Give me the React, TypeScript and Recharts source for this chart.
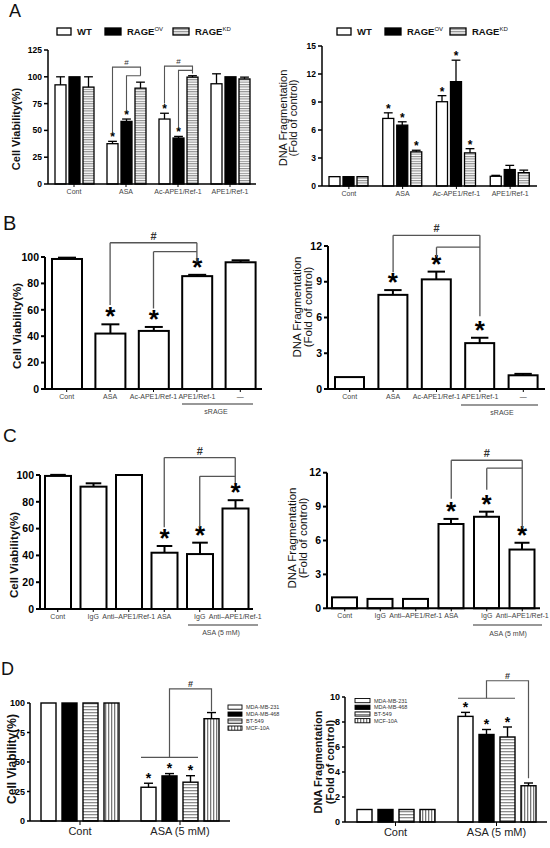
import React from 'react';
import { BarChart, Bar, XAxis, YAxis, ReferenceLine } from 'recharts';

const FONT = '"Liberation Sans", Arial, Helvetica, sans-serif';
const STAR_FONT = '"Liberation Sans", Arial, sans-serif';

// ---------------- Panel A ----------------
const catsA = ['Cont', 'ASA', 'Ac-APE1/Ref-1', 'APE1/Ref-1'];
const seriesA = ['WT', 'RAGE', 'RAGE'];
const seriesASup = ['', 'OV', 'KD'];

const viabA_WT = [92.5, 37.6, 60.6, 93.5];
const viabA_WTErr = [7.5, 2.2, 5.4, 9.3];
const viabA_OV = [100, 58.4, 42.9, 100];
const viabA_OVErr = [0, 2.2, 1.5, 0];
const viabA_KD = [90.4, 89.4, 99.7, 98];
const viabA_KDErr = [9.6, 5.6, 1.3, 1.7];
const viabA_Sig = [[0, 1, 1, 0], [0, 1, 1, 0], [0, 0, 0, 0]];
const viabA_Ticks = [0, 25, 50, 75, 100, 125];
const viabA_Brackets = [
  { cat: 1, from: 0, to: 2, top: 109, fromEnd: 48, toEnd: 101, hash: true },
  { cat: 1, from: 1, to: 2, top: 101, fromEnd: 68, toEnd: 101 },
  { cat: 2, from: 0, to: 2, top: 110, fromEnd: 75, toEnd: 103, hash: true },
  { cat: 2, from: 1, to: 2, top: 106, fromEnd: 53, toEnd: 106 },
];

const fragA_WT = [1.0, 7.24, 9.03, 1.04];
const fragA_WTErr = [0, 0.6, 0.65, 0.1];
const fragA_OV = [1.0, 6.52, 11.18, 1.76];
const fragA_OVErr = [0, 0.36, 2.3, 0.45];
const fragA_KD = [1.0, 3.66, 3.55, 1.43];
const fragA_KDErr = [0, 0.17, 0.45, 0.27];
const fragA_Sig = [[0, 1, 1, 0], [0, 1, 1, 0], [0, 1, 1, 0]];
const fragA_Ticks = [0, 3, 6, 9, 12, 15];

// ---------------- Panel B ----------------
const catsB = ['Cont', 'ASA', 'Ac-APE1/Ref-1', 'APE1/Ref-1', '\u2014'];
const groupB = 'sRAGE';
const viabB = [98.5, 42, 44, 85.5, 96];
const viabBErr = [1, 7, 3, 1, 1.5];
const viabBSig = [0, 1, 1, 1, 0];
const viabBTicks = [0, 20, 40, 60, 80, 100];
const viabBBrackets = [
  { from: 1, to: 3, top: 110.8, fromEnd: 63.6, toEnd: 96, hash: true },
  { from: 2, to: 3, top: 104, fromEnd: 61, toEnd: 104 },
];
const fragB = [1.0, 7.9, 9.2, 3.85, 1.15];
const fragBErr = [0, 0.4, 0.65, 0.45, 0.12];
const fragBSig = [0, 1, 1, 1, 0];
const fragBTicks = [0, 3, 6, 9, 12];
const fragBBrackets = [
  { from: 1, to: 3, top: 12.9, fromEnd: 9.8, toEnd: 6.1, hash: true },
  { from: 2, to: 3, top: 11.9, fromEnd: 11.1, toEnd: 11.9 },
];

// ---------------- Panel C ----------------
const catsC = ['Cont', 'IgG', 'Anti\u2013APE1/Ref-1', 'ASA', 'IgG', 'Anti\u2013APE1/Ref-1'];
const groupC = 'ASA (5 mM)';
const viabC = [99.3, 91.3, 100, 42, 41, 75];
const viabCErr = [0.8, 2.5, 0, 5, 8.5, 6.2];
const viabCSig = [0, 0, 0, 1, 1, 1];
const viabCTicks = [0, 20, 40, 60, 80, 100];
const viabCBrackets = [
  { from: 3, to: 5, top: 113, fromEnd: 61, toEnd: 94, hash: true },
  { from: 4, to: 5, top: 99, fromEnd: 61, toEnd: 99 },
];
const fragC = [0.97, 0.83, 0.83, 7.46, 8.1, 5.2];
const fragCErr = [0, 0, 0, 0.45, 0.45, 0.6];
const fragCSig = [0, 0, 0, 1, 1, 1];
const fragCTicks = [0, 3, 6, 9, 12];
const fragCBrackets = [
  { from: 3, to: 5, top: 13.1, fromEnd: 9.7, toEnd: 7.1, hash: true },
  { from: 4, to: 5, top: 12.4, fromEnd: 10.5, toEnd: 12.4 },
];

// ---------------- Panel D ----------------
const catsD = ['Cont', 'ASA (5 mM)'];
const cellLinesD = ['MDA-MB-231', 'MDA-MB-468', 'BT-549', 'MCF-10A'];
const viabD_231 = [100, 28.6];
const viabD_231Err = [0, 3.4];
const viabD_468 = [100, 38.2];
const viabD_468Err = [0, 2.0];
const viabD_BT = [100, 32.9];
const viabD_BTErr = [0, 5.5];
const viabD_MCF = [100, 86.7];
const viabD_MCFErr = [0, 5.2];
const viabD_Sig = [[0, 1], [0, 1], [0, 1], [0, 0]];
const viabD_Ticks = [0, 25, 50, 75, 100];
const viabD_Spans = [{ cat: 1, spanFrom: 0, spanTo: 2, spanY: 54, to: 3, top: 112, toEnd: 93, hash: true }];

const fragD_231 = [1, 8.45];
const fragD_231Err = [0, 0.32];
const fragD_468 = [1, 7.0];
const fragD_468Err = [0, 0.4];
const fragD_BT = [1, 6.8];
const fragD_BTErr = [0, 0.8];
const fragD_MCF = [1, 2.9];
const fragD_MCFErr = [0, 0.22];
const fragD_Sig = [[0, 1], [0, 1], [0, 1], [0, 0]];
const fragD_Ticks = [0, 2, 4, 6, 8, 10];
const fragD_Spans = [{ cat: 1, spanFrom: 0, spanTo: 2, spanY: 9.9, to: 3, top: 11.3, toEnd: 3.5, hash: true }];

// ---------------- styles ----------------
const FILLS_A = ['#ffffff', '#000000', 'url(#hstripeA)'];
const FILLS_D = ['#ffffff', '#000000', 'url(#hstripeD)', 'url(#vstripeD)'];
const FILL_WHITE = ['#ffffff'];
const LINE_COLOR = '#555';

type Bracket = { cat: number; from: number; to: number; top: number; fromEnd: number; toEnd: number; hash?: boolean };
type Span = { cat: number; spanFrom: number; spanTo: number; spanY: number; to: number; top: number; toEnd: number; hash?: boolean };
type RefBracket = { from: number; to: number; top: number; fromEnd: number; toEnd: number; hash?: boolean };

function buildRows(cats: string[], vals: number[][], errs: number[][], sigs: number[][]) {
  return cats.map((c, i) => {
    const r: any = { id: String(i), idx: i, name: c };
    vals.forEach((v, s) => {
      r['v' + s] = v[i];
      r['e' + s] = errs[s][i];
      r['g' + s] = sigs[s][i];
    });
    return r;
  });
}

interface ShapeCfg {
  s: number; fill: string; sw: number; gap: number; cap: number;
  star: number; starGap: number; hashSize: number; lineW: number;
  brackets?: Bracket[]; spans?: Span[];
}

const makeShape = (c: ShapeCfg) => (p: any) => {
  const { x, y, width, height, payload } = p;
  const v = payload['v' + c.s];
  const e = payload['e' + c.s] || 0;
  const g = payload['g' + c.s];
  const idx = payload.idx;
  const base = y + height;
  const ppu = v > 0 ? height / v : 0;
  const Y = (t: number) => base - t * ppu;
  const cx = x + width / 2;
  const errTop = Y(v + e);
  const step = width + c.gap;
  const parts: any[] = [];
  parts.push(<rect key="bar" x={x} y={y} width={width} height={height} fill={c.fill} stroke="#000" strokeWidth={c.sw} />);
  if (e > 0) {
    parts.push(<line key="ev" x1={cx} x2={cx} y1={y} y2={errTop} stroke="#000" strokeWidth={c.sw} />);
    parts.push(<line key="ec" x1={cx - (width * c.cap) / 2} x2={cx + (width * c.cap) / 2} y1={errTop} y2={errTop} stroke="#000" strokeWidth={c.sw} />);
  }
  if (g) {
    parts.push(
      <text key="st" x={cx} y={errTop - c.starGap + c.star * 0.12} textAnchor="middle" fontSize={c.star} fontWeight={700} fontFamily={STAR_FONT} fill="#000000" stroke="none">*</text>
    );
  }
  (c.brackets || []).filter((b) => b.cat === idx && b.to === c.s).forEach((b, k) => {
    const fx = cx - (b.to - b.from) * step;
    parts.push(
      <polyline key={'br' + k} points={`${fx},${Y(b.fromEnd)} ${fx},${Y(b.top)} ${cx},${Y(b.top)} ${cx},${Y(b.toEnd)}`} fill="none" stroke={LINE_COLOR} strokeWidth={c.lineW} />
    );
    if (b.hash) {
      parts.push(<text key={'bh' + k} x={(fx + cx) / 2} y={Y(b.top) - 2} textAnchor="middle" fontSize={c.hashSize} fontFamily={FONT} fill="#333">#</text>);
    }
  });
  (c.spans || []).filter((b) => b.cat === idx && b.to === c.s).forEach((b, k) => {
    const lx = x - (b.to - b.spanFrom) * step;
    const rx = x - (b.to - b.spanTo) * step + width;
    const mx = (lx + rx) / 2;
    parts.push(<line key={'sl' + k} x1={lx} x2={rx} y1={Y(b.spanY)} y2={Y(b.spanY)} stroke={LINE_COLOR} strokeWidth={c.lineW} />);
    parts.push(
      <polyline key={'sp' + k} points={`${mx},${Y(b.spanY)} ${mx},${Y(b.top)} ${cx},${Y(b.top)} ${cx},${Y(b.toEnd)}`} fill="none" stroke={LINE_COLOR} strokeWidth={c.lineW} />
    );
    if (b.hash) {
      parts.push(<text key={'sh' + k} x={(mx + cx) / 2} y={Y(b.top) - 2} textAnchor="middle" fontSize={c.hashSize} fontWeight={700} fontFamily={FONT} fill="#333">#</text>);
    }
  });
  return <g>{parts}</g>;
};

const yTitle = (lines: string[], x: number, y: number, fs: number, weight: number, lineGap: number) => {
  const Comp = () => (
    <text transform={`translate(${x},${y}) rotate(-90)`} textAnchor="middle" fontSize={fs} fontWeight={weight} fontFamily={FONT} fill="#111">
      {lines.map((l, i) => (
        <tspan key={i} x={0} dy={i === 0 ? fs * 0.35 : lineGap}>{l}</tspan>
      ))}
    </text>
  );
  return Comp;
};

interface PanelProps {
  left: number; top: number; width: number; height: number;
  margin: { top: number; right: number; bottom: number; left: number };
  cats: string[]; rows: any[]; fills: string[];
  domain: [number, number]; ticks: number[];
  yWidth: number; xHeight: number; yFont: number; xFont: number; xFill: string;
  yTickSize: number; xTickSize: number; axisW: number;
  barSize: number; barGap: number; barSW: number; cap: number;
  star: number; starGap: number; hashSize: number; lineW: number;
  brackets?: Bracket[]; spans?: Span[]; refBrackets?: RefBracket[];
  title: () => any;
}

function Panel(p: PanelProps) {
  const refLines: any[] = [];
  (p.refBrackets || []).forEach((b, k) => {
    const common = { stroke: LINE_COLOR, strokeWidth: p.lineW, ifOverflow: 'visible' as const };
    refLines.push(
      <ReferenceLine
        key={'rh' + k}
        segment={[{ x: String(b.from), y: b.top }, { x: String(b.to), y: b.top }]}
        {...common}
        label={b.hash ? { value: '#', position: 'top', offset: 3, fontSize: p.hashSize, fontWeight: 700, fill: '#333', fontFamily: FONT } : undefined}
      />
    );
    refLines.push(<ReferenceLine key={'ra' + k} segment={[{ x: String(b.from), y: b.top }, { x: String(b.from), y: b.fromEnd }]} {...common} />);
    refLines.push(<ReferenceLine key={'rb' + k} segment={[{ x: String(b.to), y: b.top }, { x: String(b.to), y: b.toEnd }]} {...common} />);
  });
  return (
    <div style={{ position: 'absolute', left: p.left, top: p.top }}>
      <BarChart width={p.width} height={p.height} data={p.rows} margin={p.margin} barSize={p.barSize} barGap={p.barGap}>
        <XAxis
          dataKey="id"
          interval={0}
          height={p.xHeight}
          tickFormatter={(v: any) => p.cats[Number(v)]}
          tick={{ fontSize: p.xFont, fill: p.xFill, fontFamily: FONT }}
          tickSize={p.xTickSize}
          tickLine={{ stroke: '#000', strokeWidth: 1 }}
          axisLine={{ stroke: '#000', strokeWidth: p.axisW }}
        />
        <YAxis
          domain={p.domain}
          ticks={p.ticks}
          interval={0}
          width={p.yWidth}
          tickSize={p.yTickSize}
          tick={{ fontSize: p.yFont, fontWeight: 700, fill: '#000', fontFamily: FONT }}
          tickLine={{ stroke: '#000', strokeWidth: p.axisW }}
          axisLine={{ stroke: '#000', strokeWidth: p.axisW }}
          label={{ content: p.title } as any}
        />
        {p.fills.map((f, s) => (
          <Bar
            key={s}
            dataKey={'v' + s}
            isAnimationActive={false}
            shape={makeShape({
              s, fill: f, sw: p.barSW, gap: p.barGap, cap: p.cap, star: p.star, starGap: p.starGap,
              hashSize: p.hashSize, lineW: p.lineW, brackets: p.brackets, spans: p.spans,
            })}
          />
        ))}
        {refLines}
      </BarChart>
    </div>
  );
}

const rowsAL = buildRows(catsA, [viabA_WT, viabA_OV, viabA_KD], [viabA_WTErr, viabA_OVErr, viabA_KDErr], viabA_Sig);
const rowsAR = buildRows(catsA, [fragA_WT, fragA_OV, fragA_KD], [fragA_WTErr, fragA_OVErr, fragA_KDErr], fragA_Sig);
const rowsBL = buildRows(catsB, [viabB], [viabBErr], [viabBSig]);
const rowsBR = buildRows(catsB, [fragB], [fragBErr], [fragBSig]);
const rowsCL = buildRows(catsC, [viabC], [viabCErr], [viabCSig]);
const rowsCR = buildRows(catsC, [fragC], [fragCErr], [fragCSig]);
const rowsDL = buildRows(catsD, [viabD_231, viabD_468, viabD_BT, viabD_MCF], [viabD_231Err, viabD_468Err, viabD_BTErr, viabD_MCFErr], viabD_Sig);
const rowsDR = buildRows(catsD, [fragD_231, fragD_468, fragD_BT, fragD_MCF], [fragD_231Err, fragD_468Err, fragD_BTErr, fragD_MCFErr], fragD_Sig);

function LegendA({ boxes, y }: { boxes: number[][]; y: number }) {
  return (
    <g>
      {seriesA.map((name, i) => (
        <g key={i}>
          <rect x={boxes[i][0]} y={y - 3.5} width={boxes[i][1] - boxes[i][0]} height={7} fill={FILLS_A[i]} stroke="#000" strokeWidth={1.3} />
          <text x={boxes[i][1] + 6} y={y + 3.5} fontSize={9.5} fontWeight={700} fontFamily={FONT} fill="#111">
            {name}
            {seriesASup[i] ? <tspan dy={-4} fontSize={6} fontWeight={400}>{seriesASup[i]}</tspan> : null}
          </text>
        </g>
      ))}
    </g>
  );
}

function LegendD({ x, y0, dy, bw }: { x: number; y0: number; dy: number; bw: number }) {
  return (
    <g>
      {cellLinesD.map((name, i) => (
        <g key={i}>
          <rect x={x} y={y0 + i * dy} width={bw} height={4.2} fill={FILLS_D[i]} stroke="#000" strokeWidth={0.9} />
          <text x={x + bw + 4} y={y0 + i * dy + 4.2} fontSize={5.5} fontFamily={FONT} fill="#333">{name}</text>
        </g>
      ))}
    </g>
  );
}

export default function App() {
  return (
    <div style={{ position: 'absolute', left: 0, top: 0, width: 550, height: 848, background: '#fff', overflow: 'hidden', fontFamily: FONT }}>
      <svg width={550} height={848} style={{ position: 'absolute', left: 0, top: 0 }}>
        <defs>
          <pattern id="hstripeA" patternUnits="userSpaceOnUse" width={4} height={2.4}>
            <rect width={4} height={2.4} fill="#fff" />
            <rect width={4} height={1.1} fill="#8c8c8c" />
          </pattern>
          <pattern id="hstripeD" patternUnits="userSpaceOnUse" width={4} height={3}>
            <rect width={4} height={3} fill="#fff" />
            <rect width={4} height={1.3} fill="#8c8c8c" />
          </pattern>
          <pattern id="vstripeD" patternUnits="userSpaceOnUse" width={3} height={4}>
            <rect width={3} height={4} fill="#fff" />
            <rect width={1.3} height={4} fill="#777" />
          </pattern>
        </defs>
      </svg>

      {/* A left: Cell viability */}
      <Panel
        left={0} top={0} width={275} height={200}
        margin={{ top: 50, right: 19, bottom: 0, left: 18 }}
        cats={catsA} rows={rowsAL} fills={FILLS_A}
        domain={[0, 125]} ticks={viabA_Ticks}
        yWidth={30} xHeight={16} yFont={8.5} xFont={7} xFill="#444"
        yTickSize={4} xTickSize={3} axisW={1.5}
        barSize={11} barGap={3} barSW={1.3} cap={0.8}
        star={12} starGap={1.5} hashSize={8} lineW={1.1}
        brackets={viabA_Brackets}
        title={yTitle(['Cell Viability(%)'], 16, 129, 11, 700, 0)}
      />
      {/* A right: DNA fragmentation */}
      <Panel
        left={275} top={0} width={275} height={200}
        margin={{ top: 46, right: 13, bottom: 0, left: 17 }}
        cats={catsA} rows={rowsAR} fills={FILLS_A}
        domain={[0, 15]} ticks={fragA_Ticks}
        yWidth={30} xHeight={14} yFont={8.5} xFont={7} xFill="#444"
        yTickSize={4} xTickSize={3} axisW={1.5}
        barSize={11} barGap={3} barSW={1.3} cap={0.8}
        star={12} starGap={1.5} hashSize={8} lineW={1.1}
        title={yTitle(['DNA Fragmentation', '(Fold of control)'], 8.5, 118, 11, 400, 10)}
      />

      {/* B left */}
      <Panel
        left={0} top={205} width={275} height={210}
        margin={{ top: 52, right: 13, bottom: 10, left: 15 }}
        cats={catsB} rows={rowsBL} fills={FILL_WHITE}
        domain={[0, 100]} ticks={viabBTicks}
        yWidth={30} xHeight={16} yFont={10.5} xFont={7} xFill="#444"
        yTickSize={4} xTickSize={3} axisW={2}
        barSize={30} barGap={0} barSW={2} cap={0.6}
        star={26} starGap={2} hashSize={11} lineW={1.3}
        refBrackets={viabBBrackets}
        title={yTitle(['Cell Viability(%)'], 17, 121, 11.5, 700, 0)}
      />
      {/* B right */}
      <Panel
        left={275} top={205} width={275} height={210}
        margin={{ top: 41, right: 5, bottom: 10, left: 23 }}
        cats={catsB} rows={rowsBR} fills={FILL_WHITE}
        domain={[0, 12]} ticks={fragBTicks}
        yWidth={30} xHeight={16} yFont={10.5} xFont={7} xFill="#444"
        yTickSize={4} xTickSize={3} axisW={2}
        barSize={29} barGap={0} barSW={2} cap={0.6}
        star={26} starGap={2} hashSize={11} lineW={1.3}
        refBrackets={fragBBrackets}
        title={yTitle(['DNA Fragmentation', '(Fold of control)'], 22, 102, 11.5, 400, 11)}
      />

      {/* C left */}
      <Panel
        left={0} top={420} width={275} height={220}
        margin={{ top: 55, right: 22, bottom: 15, left: 10 }}
        cats={catsC} rows={rowsCL} fills={FILL_WHITE}
        domain={[0, 100]} ticks={viabCTicks}
        yWidth={30} xHeight={16} yFont={10.5} xFont={7} xFill="#444"
        yTickSize={4} xTickSize={3} axisW={2}
        barSize={26} barGap={0} barSW={2} cap={0.6}
        star={26} starGap={2} hashSize={11} lineW={1.3}
        refBrackets={viabCBrackets}
        title={yTitle(['Cell Viability(%)'], 14, 135, 11.5, 700, 0)}
      />
      {/* C right */}
      <Panel
        left={275} top={420} width={275} height={220}
        margin={{ top: 52.7, right: 10, bottom: 15.7, left: 22 }}
        cats={catsC} rows={rowsCR} fills={FILL_WHITE}
        domain={[0, 12]} ticks={fragCTicks}
        yWidth={30} xHeight={16} yFont={10.5} xFont={7} xFill="#444"
        yTickSize={4} xTickSize={3} axisW={2}
        barSize={25} barGap={0} barSW={2} cap={0.6}
        star={26} starGap={2} hashSize={11} lineW={1.3}
        refBrackets={fragCBrackets}
        title={yTitle(['DNA Fragmentation', '(Fold of control)'], 17, 118, 11.5, 400, 11)}
      />

      {/* D left */}
      <Panel
        left={0} top={640} width={280} height={208}
        margin={{ top: 63, right: 50, bottom: 9, left: 4 }}
        cats={catsD} rows={rowsDL} fills={FILLS_D}
        domain={[0, 100]} ticks={viabD_Ticks}
        yWidth={26} xHeight={18} yFont={9} xFont={11} xFill="#222"
        yTickSize={3} xTickSize={4} axisW={1.5}
        barSize={15} barGap={6} barSW={1.4} cap={0.6}
        star={14} starGap={2} hashSize={9} lineW={1.2}
        spans={viabD_Spans}
        title={yTitle(['Cell Viability(%)'], 12, 119, 12, 700, 0)}
      />
      {/* D right */}
      <Panel
        left={275} top={640} width={275} height={208}
        margin={{ top: 57, right: 3, bottom: 8, left: 44 }}
        cats={catsD} rows={rowsDR} fills={FILLS_D}
        domain={[0, 10]} ticks={fragD_Ticks}
        yWidth={26} xHeight={18} yFont={9} xFont={11} xFill="#222"
        yTickSize={3} xTickSize={4} axisW={1.5}
        barSize={15} barGap={6} barSW={1.4} cap={0.6}
        star={14} starGap={2} hashSize={9} lineW={1.2}
        spans={fragD_Spans}
        title={yTitle(['DNA Fragmentation', '(Fold of control)'], 43, 122, 11, 700, 12)}
      />

      {/* overlay: panel letters, legends, group labels */}
      <svg width={550} height={848} style={{ position: 'absolute', left: 0, top: 0, pointerEvents: 'none' }}>
        <g fontFamily={FONT} fill="#111">
          <text x={9} y={17} fontSize={18}>A</text>
          <text x={3} y={230} fontSize={20}>B</text>
          <text x={3} y={442} fontSize={19}>C</text>
          <text x={1} y={675} fontSize={18}>D</text>
        </g>
        <LegendA boxes={[[57, 71], [105, 121], [173, 189]]} y={31.5} />
        <LegendA boxes={[[337, 351], [385, 401], [450, 466]]} y={31.5} />

        <line x1={182} x2={253} y1={404} y2={404} stroke="#333" strokeWidth={1.2} />
        <text x={216} y={414} textAnchor="middle" fontSize={7} fontFamily={FONT} fill="#444">{groupB}</text>
        <line x1={461} x2={538} y1={405} y2={405} stroke="#333" strokeWidth={1.2} />
        <text x={502} y={415} textAnchor="middle" fontSize={7} fontFamily={FONT} fill="#444">{groupB}</text>

        <line x1={188} x2={258} y1={625} y2={625} stroke="#333" strokeWidth={1.2} />
        <text x={221} y={635} textAnchor="middle" fontSize={7} fontFamily={FONT} fill="#444">{groupC}</text>
        <line x1={473} x2={542} y1={625} y2={625} stroke="#333" strokeWidth={1.2} />
        <text x={508} y={636} textAnchor="middle" fontSize={7} fontFamily={FONT} fill="#444">{groupC}</text>

        <LegendD x={228} y0={705} dy={7} bw={14} />
        <LegendD x={355} y0={698.5} dy={6.7} bw={15} />
      </svg>
    </div>
  );
}
